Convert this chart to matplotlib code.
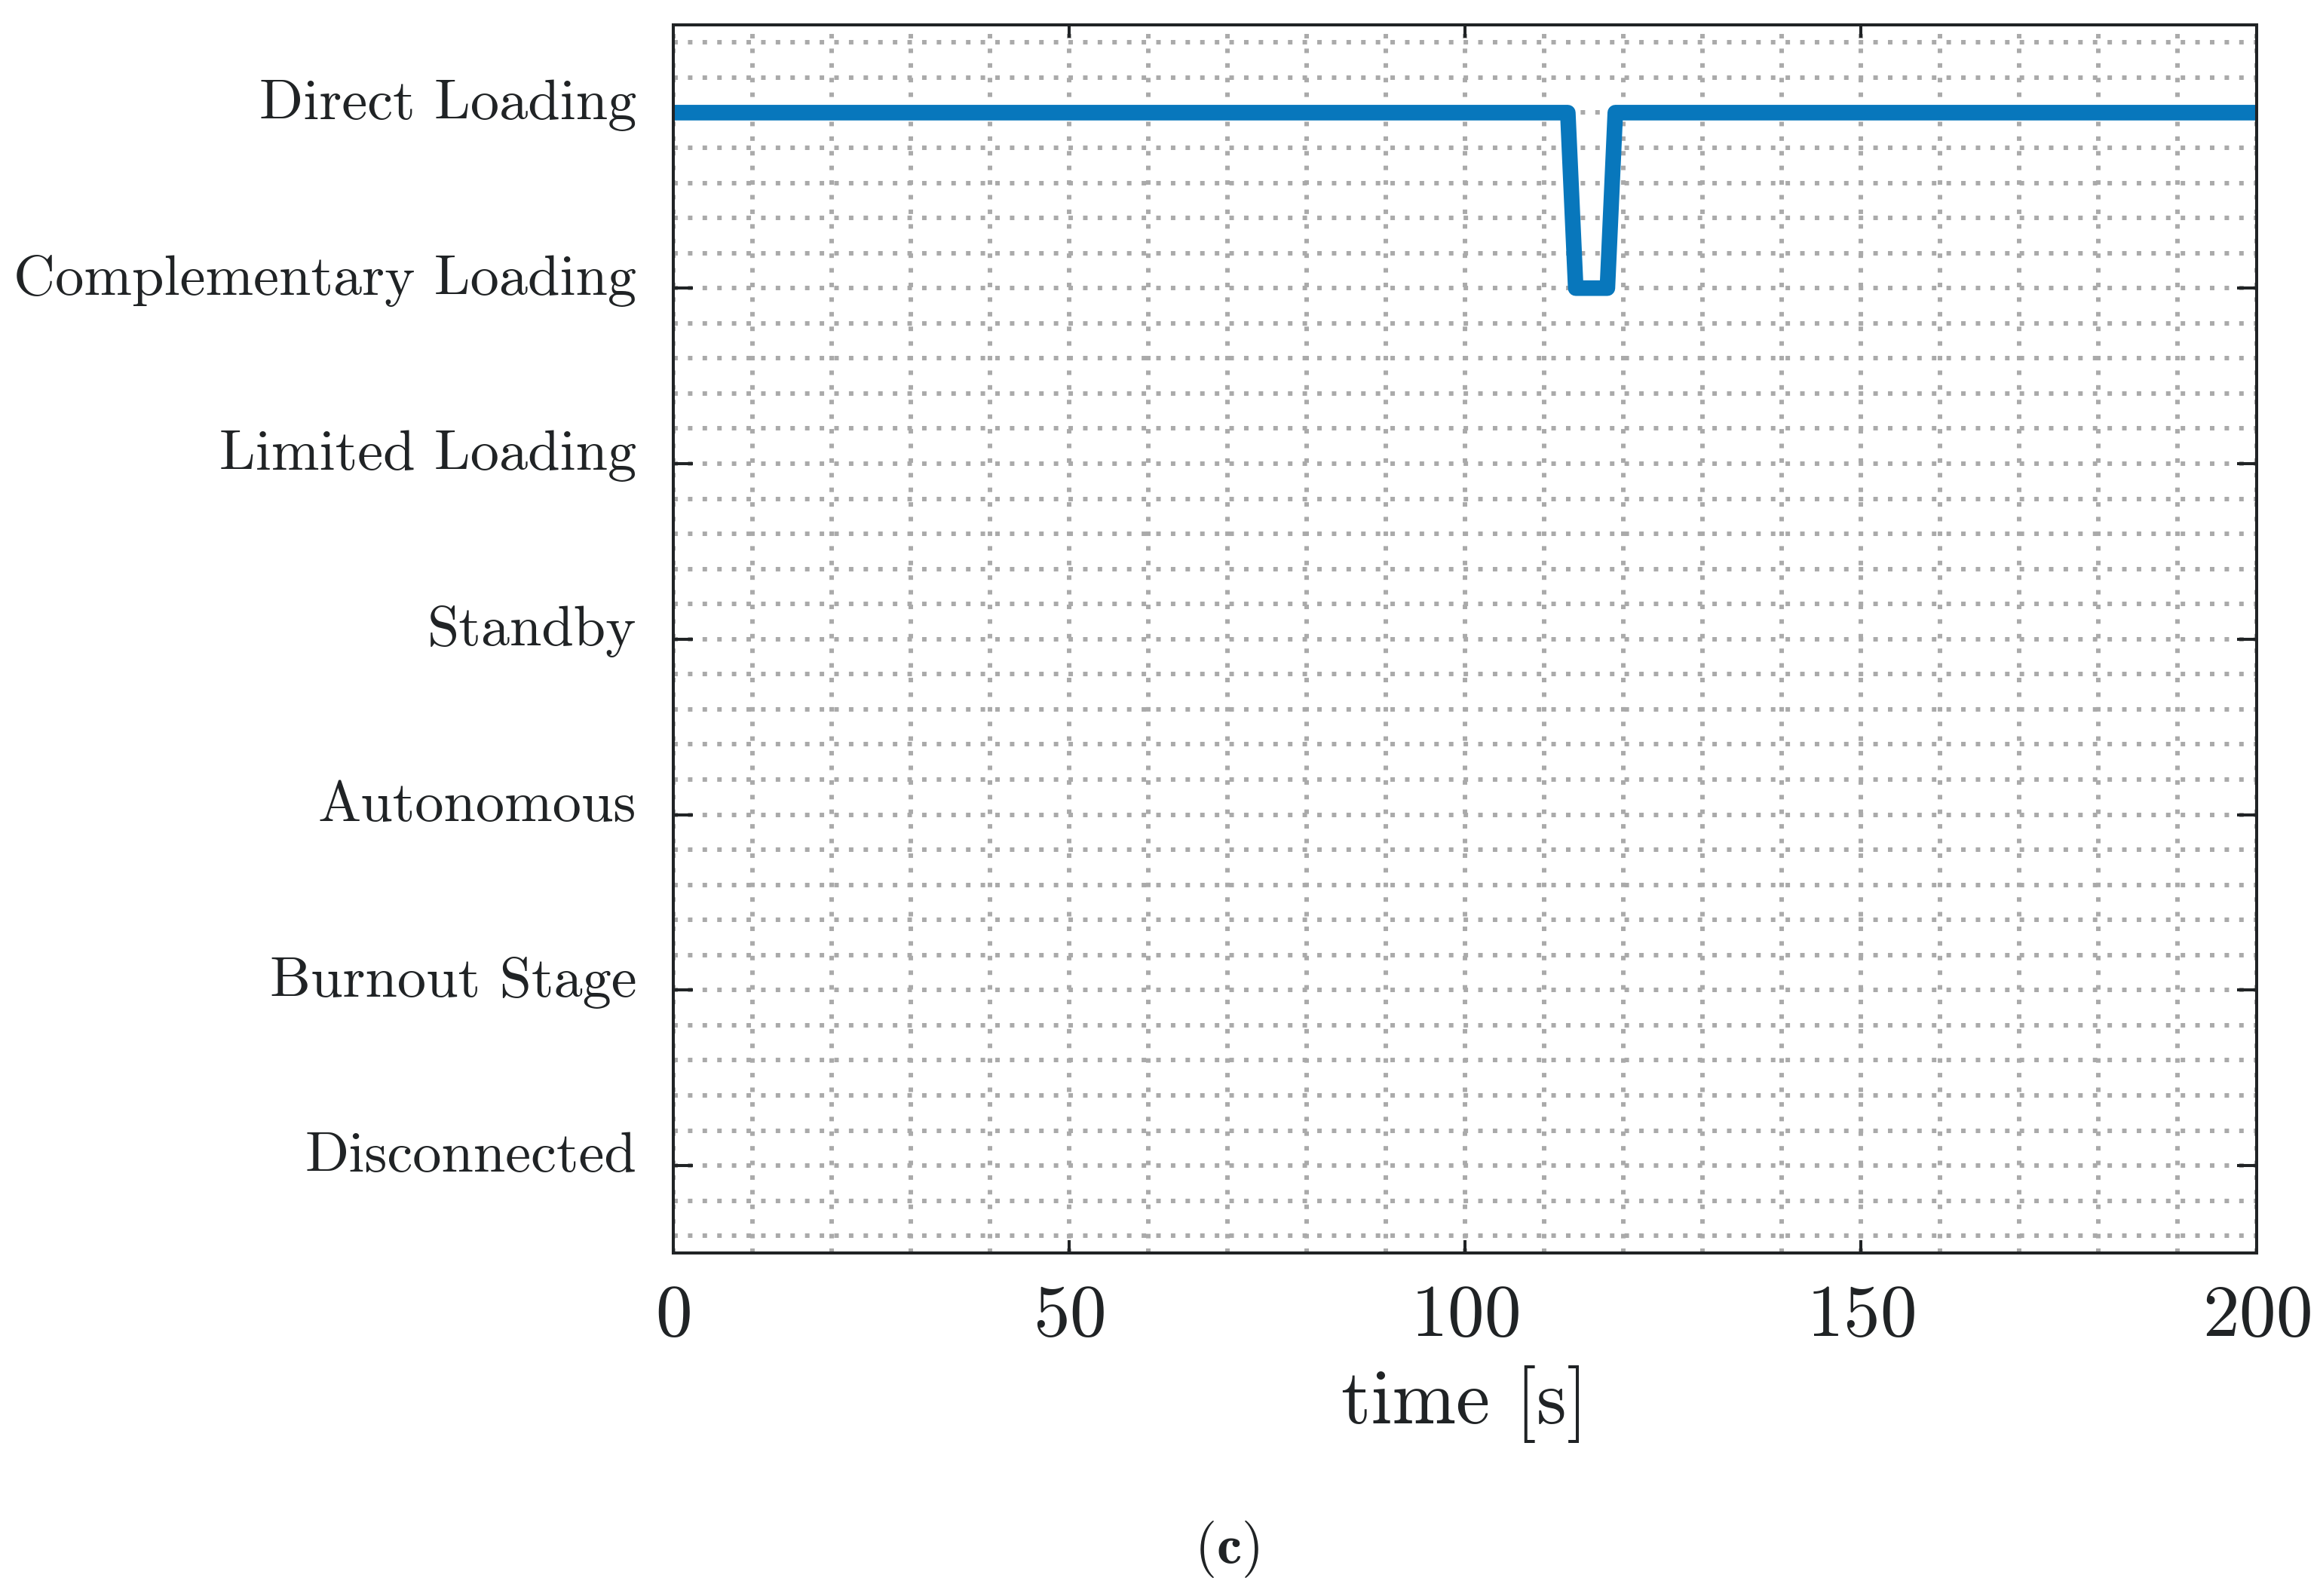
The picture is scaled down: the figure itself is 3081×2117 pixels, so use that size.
import matplotlib
matplotlib.use("Agg")
import matplotlib.pyplot as plt
from matplotlib.ticker import MultipleLocator
from matplotlib.transforms import ScaledTranslation

# operating modes, bottom to top
modes = ["Disconnected", "Burnout Stage", "Autonomous", "Standby",
         "Limited Loading", "Complementary Loading", "Direct Loading"]

# mode changes over time
time_s = [0, 113, 114, 118, 119, 200]
mode_seq = ["Direct Loading", "Direct Loading", "Complementary Loading",
            "Complementary Loading", "Direct Loading", "Direct Loading"]

plt.rcParams["font.family"] = "cmr10"
plt.rcParams["mathtext.fontset"] = "cm"
plt.rcParams["axes.formatter.use_mathtext"] = True
ink = "#202325"

fig = plt.figure(figsize=(30.81, 21.17), dpi=100)
ax = fig.add_axes([0.2898, 0.2147, 0.6816, 0.7697])

level = [modes.index(m) + 1 for m in mode_seq]
ax.plot(time_s, level, color="#0877bc", lw=14.9, solid_joinstyle="round",
        solid_capstyle="butt", zorder=3)

ax.set_xlim(0, 200)
ax.set_ylim(0.5, len(modes) + 0.5)
ax.set_yticks(range(1, len(modes) + 1))
ax.set_yticklabels(modes)
ax.xaxis.set_major_locator(MultipleLocator(50))
ax.xaxis.set_minor_locator(MultipleLocator(10))
ax.yaxis.set_minor_locator(MultipleLocator(0.2))

ax.grid(which="both", color="#aaaaaa", lw=4.3, linestyle=(0, (1, 2.25)),
        dash_capstyle="butt")
ax.set_axisbelow(True)

for s in ax.spines.values():
    s.set_linewidth(2.9)
    s.set_color(ink)
    s.set_zorder(4)

ax.tick_params(axis="x", which="major", direction="in", length=12, width=2.9,
               top=True, labelsize=70, pad=30, colors=ink)
ax.tick_params(axis="y", which="major", direction="in", length=19, width=2.9,
               right=True, labelsize=55, pad=35, colors=ink)
ax.tick_params(which="minor", length=0)

# nudge the mode labels up a little
shift = ScaledTranslation(0, 18 / 100, fig.dpi_scale_trans)
for lab in ax.get_yticklabels():
    lab.set_transform(lab.get_transform() + shift)

ax.set_xlabel("time [s]", fontsize=73, color=ink, labelpad=14)

fig.text(0.528, 1 - 2055 / 2117, r"$\mathbf{(c)}$", ha="center", va="center",
         fontsize=54, color=ink)

fig.savefig("out.png", dpi=100)
